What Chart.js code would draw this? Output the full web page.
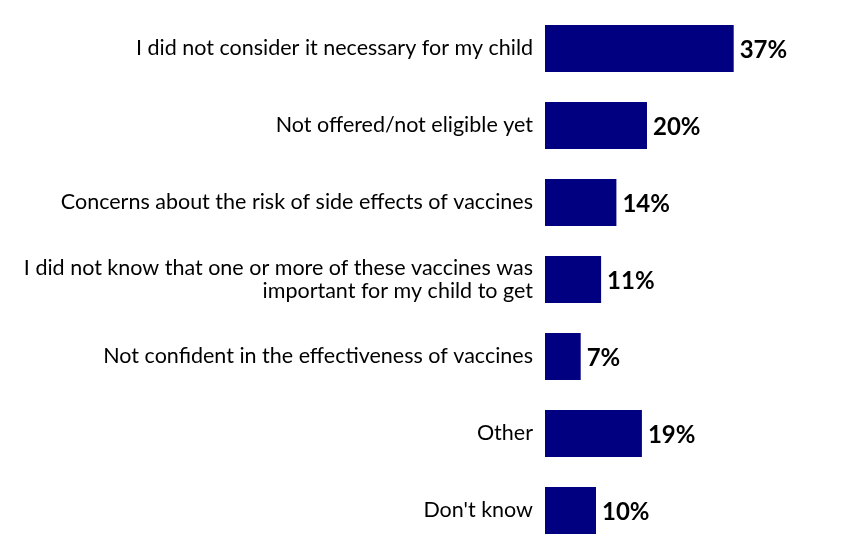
<html>
<head>
<meta charset="utf-8">
<script src="https://cdn.jsdelivr.net/npm/chart.js@4.4.1/dist/chart.umd.min.js"></script>
<style>
body { margin:0; background:#fff; }
#wrap { width:844px; height:550px; }
</style>
</head>
<body>
<div id="wrap"><canvas id="reasons"></canvas></div>
<script>
var categories = [
  "I did not consider it necessary for my child",
  "Not offered/not eligible yet",
  "Concerns about the risk of side effects of vaccines",
  ["I did not know that one or more of these vaccines was", "important for my child to get"],
  "Not confident in the effectiveness of vaccines",
  "Other",
  "Don't know"
];
var values = [37, 20, 14, 11, 7, 19, 10];
var xMax = 50;

// draws the % next to each bar
var valueLabels = {
  id: 'valueLabels',
  afterDatasetsDraw: function(chart) {
    var ctx = chart.ctx;
    var meta = chart.getDatasetMeta(0);
    ctx.save();
    ctx.font = 'bold 24px Lato';
    ctx.fillStyle = '#000';
    ctx.textAlign = 'left';
    ctx.textBaseline = 'middle';
    meta.data.forEach(function(bar, i) {
      ctx.fillText(values[i] + '%', bar.x + 6, bar.y + 2);
    });
    ctx.restore();
  }
};

new Chart(document.getElementById("reasons"), {
  type: "bar",
  data: {
    labels: categories,
    datasets: [{
      data: values,
      backgroundColor: "#000080",
      categoryPercentage: 1,
      barPercentage: 0.61
    }]
  },
  options: {
    indexAxis: 'y',
    responsive: true,
    maintainAspectRatio: false,
    animation: false,
    layout: { padding: { top: 10, bottom: 1, left: 0, right: 44 } },
    plugins: { legend: { display: false }, tooltip: { enabled: false } },
    scales: {
      x: { display: false, min: 0, max: xMax },
      y: {
        grid: { display: false, drawTicks: false },
        border: { display: false },
        ticks: { color: '#000', padding: 12, font: { family: 'Lato', size: 21.5, lineHeight: 1.07 } },
        afterFit: function(scale) {
          scale.width = 545;
          scale.paddingTop = 0;
          scale.paddingBottom = 0;
        }
      }
    }
  },
  plugins: [valueLabels]
});
</script>
</body>
</html>
